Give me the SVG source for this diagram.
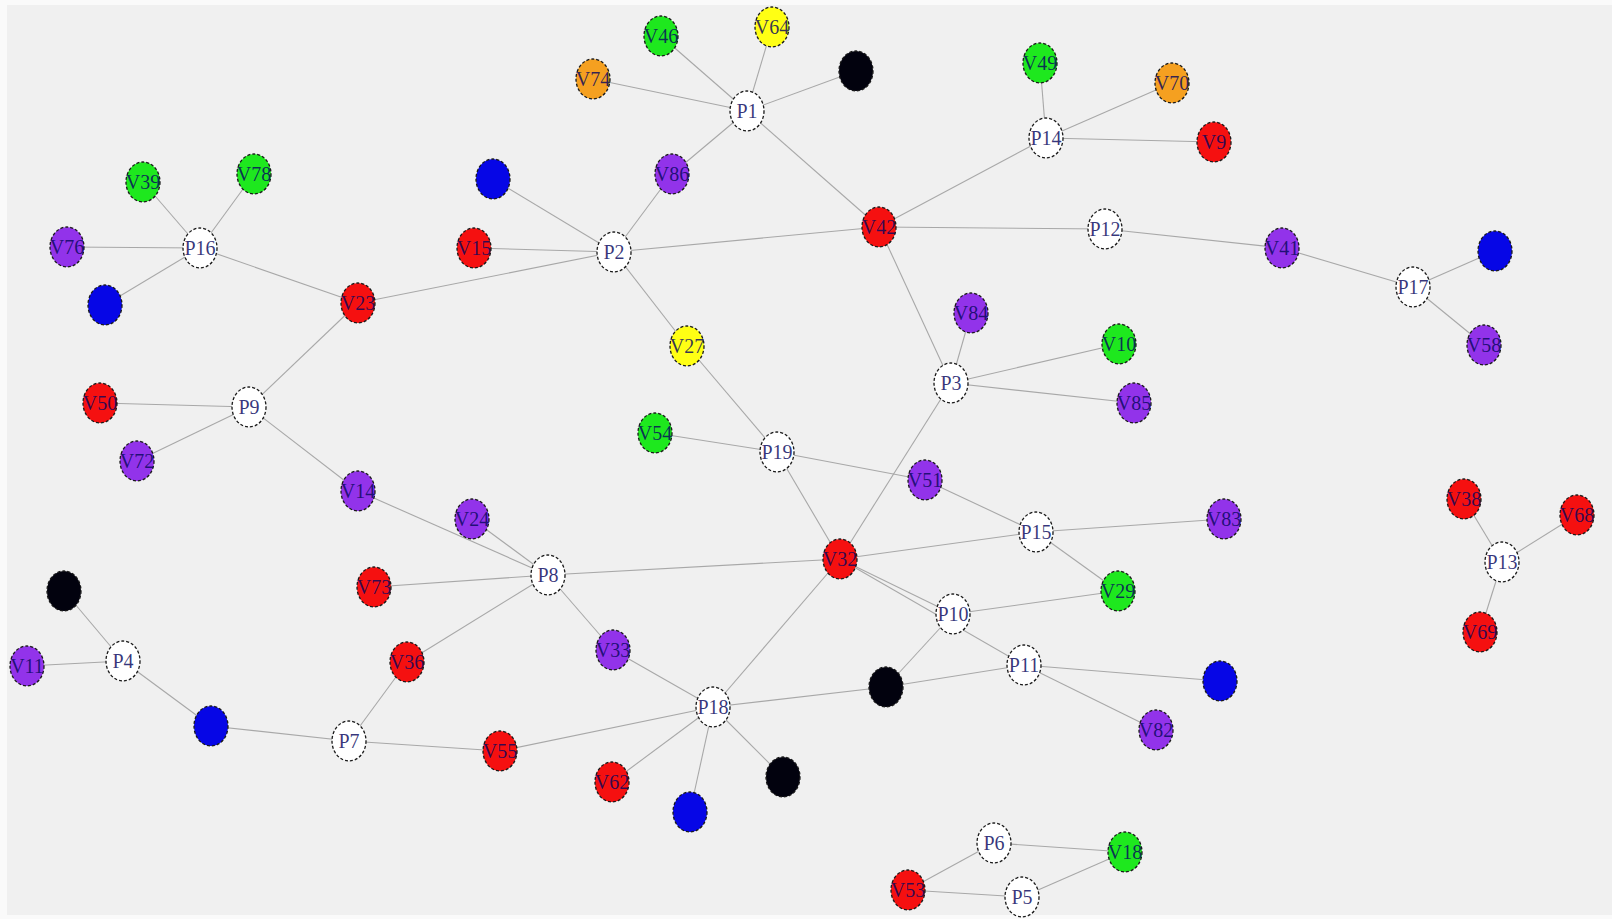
<svg xmlns="http://www.w3.org/2000/svg" width="1612" height="919" viewBox="0 0 1612 919">
<style>
.n ellipse{stroke:#1a1a1a;stroke-width:1.3;stroke-dasharray:3 2}
.n text{font-family:"Liberation Serif","Times New Roman",serif;font-size:20px;text-anchor:middle;dominant-baseline:central;fill:#08085e;fill-opacity:0.82}
.e line{stroke:#a8a8a8;stroke-width:1.1}
.w{fill:#ffffff}.r{fill:#f51010}.g{fill:#1ee81e}.p{fill:#9233ea}.b{fill:#0606e6}.k{fill:#02020e}.y{fill:#ffff14}.o{fill:#f5a020}
</style>
<rect x="0" y="0" width="1612" height="919" fill="#fafafa"/>
<rect x="7" y="5" width="1605" height="910" fill="#f0f0f0"/>
<g id="edges" class="e">
<line x1="747" y1="111" x2="661" y2="36"/>
<line x1="747" y1="111" x2="772" y2="27"/>
<line x1="747" y1="111" x2="593" y2="79"/>
<line x1="747" y1="111" x2="856" y2="71"/>
<line x1="747" y1="111" x2="672" y2="174"/>
<line x1="747" y1="111" x2="879" y2="227"/>
<line x1="1046" y1="138" x2="1040" y2="63"/>
<line x1="1046" y1="138" x2="1172" y2="83"/>
<line x1="1046" y1="138" x2="1214" y2="142"/>
<line x1="1046" y1="138" x2="879" y2="227"/>
<line x1="614" y1="252" x2="493" y2="179"/>
<line x1="614" y1="252" x2="474" y2="248"/>
<line x1="614" y1="252" x2="672" y2="174"/>
<line x1="614" y1="252" x2="358" y2="303"/>
<line x1="614" y1="252" x2="879" y2="227"/>
<line x1="614" y1="252" x2="687" y2="346"/>
<line x1="200" y1="248" x2="143" y2="182"/>
<line x1="200" y1="248" x2="254" y2="174"/>
<line x1="200" y1="248" x2="67" y2="247"/>
<line x1="200" y1="248" x2="105" y2="305"/>
<line x1="200" y1="248" x2="358" y2="303"/>
<line x1="249" y1="407" x2="358" y2="303"/>
<line x1="249" y1="407" x2="100" y2="403"/>
<line x1="249" y1="407" x2="137" y2="461"/>
<line x1="249" y1="407" x2="358" y2="491"/>
<line x1="1105" y1="229" x2="879" y2="227"/>
<line x1="1105" y1="229" x2="1282" y2="248"/>
<line x1="1413" y1="287" x2="1282" y2="248"/>
<line x1="1413" y1="287" x2="1495" y2="251"/>
<line x1="1413" y1="287" x2="1484" y2="345"/>
<line x1="951" y1="383" x2="879" y2="227"/>
<line x1="951" y1="383" x2="971" y2="313"/>
<line x1="951" y1="383" x2="1119" y2="344"/>
<line x1="951" y1="383" x2="1134" y2="403"/>
<line x1="951" y1="383" x2="840" y2="559"/>
<line x1="777" y1="452" x2="687" y2="346"/>
<line x1="777" y1="452" x2="655" y2="433"/>
<line x1="777" y1="452" x2="925" y2="480"/>
<line x1="777" y1="452" x2="840" y2="559"/>
<line x1="1036" y1="532" x2="925" y2="480"/>
<line x1="1036" y1="532" x2="840" y2="559"/>
<line x1="1036" y1="532" x2="1224" y2="519"/>
<line x1="1036" y1="532" x2="1118" y2="591"/>
<line x1="548" y1="575" x2="840" y2="559"/>
<line x1="548" y1="575" x2="358" y2="491"/>
<line x1="548" y1="575" x2="472" y2="519"/>
<line x1="548" y1="575" x2="374" y2="587"/>
<line x1="548" y1="575" x2="407" y2="662"/>
<line x1="548" y1="575" x2="613" y2="650"/>
<line x1="953" y1="614" x2="840" y2="559"/>
<line x1="1024" y1="665" x2="840" y2="559"/>
<line x1="953" y1="614" x2="1118" y2="591"/>
<line x1="953" y1="614" x2="886" y2="687"/>
<line x1="1024" y1="665" x2="886" y2="687"/>
<line x1="1024" y1="665" x2="1220" y2="681"/>
<line x1="1024" y1="665" x2="1156" y2="730"/>
<line x1="713" y1="707" x2="613" y2="650"/>
<line x1="713" y1="707" x2="840" y2="559"/>
<line x1="713" y1="707" x2="886" y2="687"/>
<line x1="713" y1="707" x2="500" y2="751"/>
<line x1="713" y1="707" x2="612" y2="782"/>
<line x1="713" y1="707" x2="690" y2="812"/>
<line x1="713" y1="707" x2="783" y2="777"/>
<line x1="123" y1="661" x2="64" y2="591"/>
<line x1="123" y1="661" x2="27" y2="666"/>
<line x1="123" y1="661" x2="211" y2="726"/>
<line x1="349" y1="741" x2="211" y2="726"/>
<line x1="349" y1="741" x2="407" y2="662"/>
<line x1="349" y1="741" x2="500" y2="751"/>
<line x1="1502" y1="562" x2="1464" y2="499"/>
<line x1="1502" y1="562" x2="1577" y2="515"/>
<line x1="1502" y1="562" x2="1480" y2="632"/>
<line x1="994" y1="843" x2="908" y2="890"/>
<line x1="994" y1="843" x2="1125" y2="852"/>
<line x1="1022" y1="897" x2="908" y2="890"/>
<line x1="1022" y1="897" x2="1125" y2="852"/>
</g>
<g id="P1" class="n"><ellipse class="w" cx="747" cy="111" rx="17" ry="20"/><text x="747" y="111">P1</text></g>
<g id="P2" class="n"><ellipse class="w" cx="614" cy="252" rx="17" ry="20"/><text x="614" y="252">P2</text></g>
<g id="P3" class="n"><ellipse class="w" cx="951" cy="383" rx="17" ry="20"/><text x="951" y="383">P3</text></g>
<g id="P4" class="n"><ellipse class="w" cx="123" cy="661" rx="17" ry="20"/><text x="123" y="661">P4</text></g>
<g id="P5" class="n"><ellipse class="w" cx="1022" cy="897" rx="17" ry="20"/><text x="1022" y="897">P5</text></g>
<g id="P6" class="n"><ellipse class="w" cx="994" cy="843" rx="17" ry="20"/><text x="994" y="843">P6</text></g>
<g id="P7" class="n"><ellipse class="w" cx="349" cy="741" rx="17" ry="20"/><text x="349" y="741">P7</text></g>
<g id="P8" class="n"><ellipse class="w" cx="548" cy="575" rx="17" ry="20"/><text x="548" y="575">P8</text></g>
<g id="P9" class="n"><ellipse class="w" cx="249" cy="407" rx="17" ry="20"/><text x="249" y="407">P9</text></g>
<g id="P10" class="n"><ellipse class="w" cx="953" cy="614" rx="17" ry="20"/><text x="953" y="614">P10</text></g>
<g id="P11" class="n"><ellipse class="w" cx="1024" cy="665" rx="17" ry="20"/><text x="1024" y="665">P11</text></g>
<g id="P12" class="n"><ellipse class="w" cx="1105" cy="229" rx="17" ry="20"/><text x="1105" y="229">P12</text></g>
<g id="P13" class="n"><ellipse class="w" cx="1502" cy="562" rx="17" ry="20"/><text x="1502" y="562">P13</text></g>
<g id="P14" class="n"><ellipse class="w" cx="1046" cy="138" rx="17" ry="20"/><text x="1046" y="138">P14</text></g>
<g id="P15" class="n"><ellipse class="w" cx="1036" cy="532" rx="17" ry="20"/><text x="1036" y="532">P15</text></g>
<g id="P16" class="n"><ellipse class="w" cx="200" cy="248" rx="17" ry="20"/><text x="200" y="248">P16</text></g>
<g id="P17" class="n"><ellipse class="w" cx="1413" cy="287" rx="17" ry="20"/><text x="1413" y="287">P17</text></g>
<g id="P18" class="n"><ellipse class="w" cx="713" cy="707" rx="17" ry="20"/><text x="713" y="707">P18</text></g>
<g id="P19" class="n"><ellipse class="w" cx="777" cy="452" rx="17" ry="20"/><text x="777" y="452">P19</text></g>
<g id="V46" class="n"><ellipse class="g" cx="661" cy="36" rx="17" ry="20"/><text x="661" y="36">V46</text></g>
<g id="V64" class="n"><ellipse class="y" cx="772" cy="27" rx="17" ry="20"/><text x="772" y="27">V64</text></g>
<g id="V74" class="n"><ellipse class="o" cx="593" cy="79" rx="17" ry="20"/><text x="593" y="79">V74</text></g>
<g id="K1" class="n"><ellipse class="k" cx="856" cy="71" rx="17" ry="20"/></g>
<g id="V86" class="n"><ellipse class="p" cx="672" cy="174" rx="17" ry="20"/><text x="672" y="174">V86</text></g>
<g id="V49" class="n"><ellipse class="g" cx="1040" cy="63" rx="17" ry="20"/><text x="1040" y="63">V49</text></g>
<g id="V70" class="n"><ellipse class="o" cx="1172" cy="83" rx="17" ry="20"/><text x="1172" y="83">V70</text></g>
<g id="V9" class="n"><ellipse class="r" cx="1214" cy="142" rx="17" ry="20"/><text x="1214" y="142">V9</text></g>
<g id="V42" class="n"><ellipse class="r" cx="879" cy="227" rx="17" ry="20"/><text x="879" y="227">V42</text></g>
<g id="V41" class="n"><ellipse class="p" cx="1282" cy="248" rx="17" ry="20"/><text x="1282" y="248">V41</text></g>
<g id="B1" class="n"><ellipse class="b" cx="1495" cy="251" rx="17" ry="20"/></g>
<g id="V58" class="n"><ellipse class="p" cx="1484" cy="345" rx="17" ry="20"/><text x="1484" y="345">V58</text></g>
<g id="V84" class="n"><ellipse class="p" cx="971" cy="313" rx="17" ry="20"/><text x="971" y="313">V84</text></g>
<g id="V10" class="n"><ellipse class="g" cx="1119" cy="344" rx="17" ry="20"/><text x="1119" y="344">V10</text></g>
<g id="V85" class="n"><ellipse class="p" cx="1134" cy="403" rx="17" ry="20"/><text x="1134" y="403">V85</text></g>
<g id="V39" class="n"><ellipse class="g" cx="143" cy="182" rx="17" ry="20"/><text x="143" y="182">V39</text></g>
<g id="V78" class="n"><ellipse class="g" cx="254" cy="174" rx="17" ry="20"/><text x="254" y="174">V78</text></g>
<g id="V76" class="n"><ellipse class="p" cx="67" cy="247" rx="17" ry="20"/><text x="67" y="247">V76</text></g>
<g id="B2" class="n"><ellipse class="b" cx="105" cy="305" rx="17" ry="20"/></g>
<g id="V15" class="n"><ellipse class="r" cx="474" cy="248" rx="17" ry="20"/><text x="474" y="248">V15</text></g>
<g id="B3" class="n"><ellipse class="b" cx="493" cy="179" rx="17" ry="20"/></g>
<g id="V23" class="n"><ellipse class="r" cx="358" cy="303" rx="17" ry="20"/><text x="358" y="303">V23</text></g>
<g id="V50" class="n"><ellipse class="r" cx="100" cy="403" rx="17" ry="20"/><text x="100" y="403">V50</text></g>
<g id="V72" class="n"><ellipse class="p" cx="137" cy="461" rx="17" ry="20"/><text x="137" y="461">V72</text></g>
<g id="V14" class="n"><ellipse class="p" cx="358" cy="491" rx="17" ry="20"/><text x="358" y="491">V14</text></g>
<g id="V24" class="n"><ellipse class="p" cx="472" cy="519" rx="17" ry="20"/><text x="472" y="519">V24</text></g>
<g id="V73" class="n"><ellipse class="r" cx="374" cy="587" rx="17" ry="20"/><text x="374" y="587">V73</text></g>
<g id="V27" class="n"><ellipse class="y" cx="687" cy="346" rx="17" ry="20"/><text x="687" y="346">V27</text></g>
<g id="V54" class="n"><ellipse class="g" cx="655" cy="433" rx="17" ry="20"/><text x="655" y="433">V54</text></g>
<g id="V51" class="n"><ellipse class="p" cx="925" cy="480" rx="17" ry="20"/><text x="925" y="480">V51</text></g>
<g id="V32" class="n"><ellipse class="r" cx="840" cy="559" rx="17" ry="20"/><text x="840" y="559">V32</text></g>
<g id="V83" class="n"><ellipse class="p" cx="1224" cy="519" rx="17" ry="20"/><text x="1224" y="519">V83</text></g>
<g id="V29" class="n"><ellipse class="g" cx="1118" cy="591" rx="17" ry="20"/><text x="1118" y="591">V29</text></g>
<g id="V38" class="n"><ellipse class="r" cx="1464" cy="499" rx="17" ry="20"/><text x="1464" y="499">V38</text></g>
<g id="V68" class="n"><ellipse class="r" cx="1577" cy="515" rx="17" ry="20"/><text x="1577" y="515">V68</text></g>
<g id="V69" class="n"><ellipse class="r" cx="1480" cy="632" rx="17" ry="20"/><text x="1480" y="632">V69</text></g>
<g id="K2" class="n"><ellipse class="k" cx="64" cy="591" rx="17" ry="20"/></g>
<g id="V11" class="n"><ellipse class="p" cx="27" cy="666" rx="17" ry="20"/><text x="27" y="666">V11</text></g>
<g id="B4" class="n"><ellipse class="b" cx="211" cy="726" rx="17" ry="20"/></g>
<g id="V36" class="n"><ellipse class="r" cx="407" cy="662" rx="17" ry="20"/><text x="407" y="662">V36</text></g>
<g id="V55" class="n"><ellipse class="r" cx="500" cy="751" rx="17" ry="20"/><text x="500" y="751">V55</text></g>
<g id="V33" class="n"><ellipse class="p" cx="613" cy="650" rx="17" ry="20"/><text x="613" y="650">V33</text></g>
<g id="V62" class="n"><ellipse class="r" cx="612" cy="782" rx="17" ry="20"/><text x="612" y="782">V62</text></g>
<g id="B5" class="n"><ellipse class="b" cx="690" cy="812" rx="17" ry="20"/></g>
<g id="K3" class="n"><ellipse class="k" cx="783" cy="777" rx="17" ry="20"/></g>
<g id="K4" class="n"><ellipse class="k" cx="886" cy="687" rx="17" ry="20"/></g>
<g id="B6" class="n"><ellipse class="b" cx="1220" cy="681" rx="17" ry="20"/></g>
<g id="V82" class="n"><ellipse class="p" cx="1156" cy="730" rx="17" ry="20"/><text x="1156" y="730">V82</text></g>
<g id="V53" class="n"><ellipse class="r" cx="908" cy="890" rx="17" ry="20"/><text x="908" y="890">V53</text></g>
<g id="V18" class="n"><ellipse class="g" cx="1125" cy="852" rx="17" ry="20"/><text x="1125" y="852">V18</text></g>
</svg>
